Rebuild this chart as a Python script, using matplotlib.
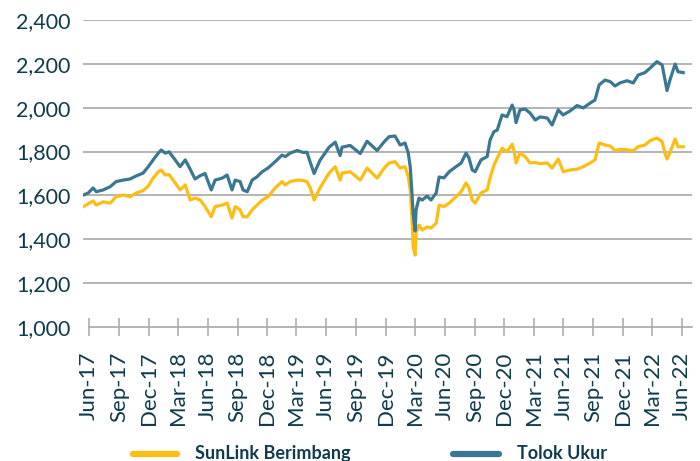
import matplotlib
matplotlib.use("Agg")
import matplotlib.pyplot as plt
import matplotlib.dates as mdates
import matplotlib.ticker as mticker
from matplotlib.lines import Line2D
import pandas as pd

# ---------------- data ----------------
dates = [
    "2017-05-14", "2017-05-29", "2017-06-13", "2017-06-23", "2017-07-14", "2017-08-05",
    "2017-08-23", "2017-09-14", "2017-10-05", "2017-10-24", "2017-11-14", "2017-11-30",
    "2017-12-15", "2017-12-31", "2018-01-09", "2018-01-21", "2018-02-02", "2018-02-21",
    "2018-03-08", "2018-03-24", "2018-04-08", "2018-04-23", "2018-05-09", "2018-05-24",
    "2018-06-12", "2018-06-24", "2018-07-16", "2018-07-31", "2018-08-15", "2018-08-25",
    "2018-09-09", "2018-09-18", "2018-10-01", "2018-10-16", "2018-10-31", "2018-11-16",
    "2018-12-04", "2018-12-26", "2019-01-16", "2019-01-26", "2019-02-10", "2019-03-04",
    "2019-03-22", "2019-04-03", "2019-04-13", "2019-04-25", "2019-05-13", "2019-06-10",
    "2019-06-29", "2019-07-14", "2019-07-20", "2019-08-14", "2019-09-14", "2019-10-05",
    "2019-11-05", "2019-11-27", "2019-12-12", "2019-12-30", "2020-01-15", "2020-01-30",
    "2020-02-09", "2020-02-15", "2020-02-21", "2020-02-24", "2020-03-01", "2020-03-04",
    "2020-03-13", "2020-03-23", "2020-04-07", "2020-04-19", "2020-05-05", "2020-05-14",
    "2020-05-29", "2020-06-14", "2020-07-05", "2020-07-21", "2020-08-05", "2020-08-14",
    "2020-08-24", "2020-09-02", "2020-09-20", "2020-10-09", "2020-10-18", "2020-10-30",
    "2020-11-09", "2020-11-24", "2020-12-09", "2020-12-25", "2020-12-31", "2021-01-06",
    "2021-01-18", "2021-02-03", "2021-02-18", "2021-03-06", "2021-03-21", "2021-04-12",
    "2021-04-27", "2021-05-16", "2021-05-31", "2021-06-21", "2021-07-13", "2021-08-01",
    "2021-08-22", "2021-09-06", "2021-09-19", "2021-10-07", "2021-10-23", "2021-11-07",
    "2021-11-22", "2021-12-14", "2022-01-02", "2022-01-17", "2022-02-07", "2022-02-23",
    "2022-03-16", "2022-04-01", "2022-04-10", "2022-04-16", "2022-04-25", "2022-05-11",
    "2022-05-20", "2022-06-05",
]

sunlink_berimbang = [
    1549, 1562, 1575, 1556, 1571, 1565, 1594, 1602, 1594, 1611, 1622, 1643,
    1679, 1708, 1716, 1693, 1695, 1657, 1625, 1648, 1579, 1588, 1579, 1549,
    1503, 1549, 1556, 1565, 1497, 1549, 1534, 1503, 1503, 1534, 1556, 1579,
    1594, 1634, 1663, 1648, 1663, 1670, 1668, 1663, 1634, 1579, 1634, 1702,
    1731, 1670, 1702, 1708, 1670, 1725, 1679, 1725, 1748, 1754, 1725, 1731,
    1685, 1625, 1474, 1366, 1328, 1429, 1465, 1442, 1457, 1451, 1474, 1556,
    1549, 1565, 1594, 1617, 1657, 1634, 1579, 1565, 1611, 1625, 1680, 1739,
    1770, 1815, 1799, 1834, 1800, 1748, 1793, 1777, 1748, 1750, 1745, 1748,
    1725, 1766, 1708, 1716, 1720, 1731, 1748, 1762, 1839, 1830, 1825, 1805,
    1810, 1808, 1804, 1822, 1830, 1850, 1862, 1845, 1790, 1766, 1795, 1857,
    1822, 1822,
]

tolok_ukur = [
    1602, 1611, 1634, 1617, 1625, 1640, 1663, 1670, 1675, 1689, 1702, 1731,
    1762, 1793, 1807, 1793, 1799, 1762, 1731, 1762, 1720, 1675, 1690, 1700,
    1625, 1670, 1679, 1693, 1625, 1670, 1663, 1625, 1617, 1670, 1685, 1708,
    1725, 1754, 1784, 1777, 1793, 1805, 1796, 1797, 1751, 1700, 1760, 1820,
    1843, 1782, 1820, 1828, 1791, 1847, 1805, 1845, 1868, 1871, 1830, 1839,
    1793, 1731, 1594, 1520, 1438, 1534, 1588, 1579, 1597, 1579, 1611, 1684,
    1680, 1708, 1731, 1748, 1793, 1771, 1716, 1708, 1762, 1777, 1853, 1891,
    1898, 1967, 1959, 2012, 1990, 1932, 1990, 1994, 1976, 1944, 1958, 1953,
    1921, 1990, 1967, 1985, 2010, 1999, 2021, 2035, 2104, 2126, 2119, 2099,
    2113, 2123, 2113, 2149, 2160, 2181, 2210, 2195, 2126, 2078, 2126, 2199,
    2164, 2160,
]

series_names = ["SunLink Berimbang", "Tolok Ukur"]
y_ticks = [1000, 1200, 1400, 1600, 1800, 2000, 2200, 2400]
x_tick_dates = pd.date_range("2017-06-01", "2022-06-01", freq="3MS")

# ---------------- style ----------------
YELLOW = "#FDBE14"
BLUE = "#3A7891"
TEXT = "#0F3C4C"
GRID = "#A8A8A8"
plt.rcParams["font.family"] = ["Lato", "DejaVu Sans"]

dt = pd.to_datetime(dates)

fig = plt.figure(figsize=(7.0, 4.61), dpi=100)
ax = fig.add_axes([83 / 700, 1 - 327 / 461, (692 - 83) / 700, (327 - 20) / 461])

ax.plot(dt, sunlink_berimbang, color=YELLOW, lw=2.3, label=series_names[0],
        solid_joinstyle="round", zorder=3)
ax.plot(dt, tolok_ukur, color=BLUE, lw=2.3, label=series_names[1],
        solid_joinstyle="round", zorder=4)

ax.set_ylim(y_ticks[0], y_ticks[-1])
ax.set_yticks(y_ticks)
ax.yaxis.set_major_formatter(mticker.FuncFormatter(lambda v, p: f"{int(v):,}"))
ax.set_xlim(pd.Timestamp("2017-05-13"), pd.Timestamp("2022-07-02"))
ax.set_xticks(x_tick_dates)
ax.xaxis.set_major_formatter(mdates.DateFormatter("%b-%y"))

ax.grid(axis="y", color=GRID, lw=1.2)
ax.get_ygridlines()[0].set_visible(False)
ax.set_axisbelow(True)

for s in ["top", "right", "left"]:
    ax.spines[s].set_visible(False)
ax.spines["bottom"].set_color(GRID)
ax.spines["bottom"].set_linewidth(1.2)
ax.spines["bottom"].set_bounds(mdates.date2num(x_tick_dates[0]),
                               mdates.date2num(pd.Timestamp("2022-07-02")))

ax.tick_params(axis="y", length=0, pad=9, labelsize=15.5, labelcolor=TEXT)
ax.tick_params(axis="x", direction="inout", length=13, width=1.1, color=GRID,
               pad=11, labelsize=16, labelcolor=TEXT, labelrotation=90)

# ---------------- legend (manual placement at bottom) ----------------
W, H = 700.0, 461.0
legend_y = 1 - 453.5 / H
for (x0, x1, xt), name, col in zip([(133, 177, 195), (453, 499, 517)],
                                   series_names, [YELLOW, BLUE]):
    fig.add_artist(Line2D([x0 / W, x1 / W], [legend_y, legend_y], color=col,
                          lw=4.5, solid_capstyle="round",
                          transform=fig.transFigure))
    fig.text(xt / W, legend_y, name, color=TEXT, fontsize=13, fontweight="bold",
             ha="left", va="center")

fig.savefig("out.png", dpi=100)
